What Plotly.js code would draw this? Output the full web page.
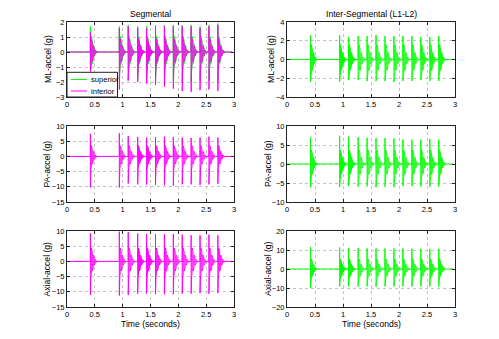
<!DOCTYPE html>
<html>
<head>
<meta charset="utf-8">
<script src="https://cdn.plot.ly/plotly-3.0.1.min.js"></script>
<style>
  html, body { margin: 0; padding: 0; background: #ffffff; }
  #chart { width: 499px; height: 339px; }
</style>
</head>
<body>
<div id="chart"></div>
<script>
// Impact onset times (s) of the 13 recorded bursts
const burstTimes = [0.42, 0.94, 1.10, 1.27, 1.43, 1.59, 1.75, 1.91, 2.07, 2.23, 2.39, 2.55, 2.71];

// Ringing after each impact: offsets from onset (s) and relative amplitude
const ringOffsets = [0.000, 0.003, 0.009, 0.015, 0.021, 0.027, 0.033, 0.039, 0.045, 0.051, 0.057, 0.063, 0.069, 0.075, 0.081, 0.087, 0.093, 0.099, 0.105, 0.111, 0.117, 0.123];
const ringLevel   = [1.00, 1.00, 0.95, 0.88, 0.80, 0.72, 0.64, 0.56, 0.49, 0.42, 0.36, 0.30, 0.25, 0.20, 0.16, 0.13, 0.10, 0.08, 0.06, 0.04, 0.03, 0.02];
const recordEnd = 2.97;

// Segmental ML (g): superior and inferior sensors
const mlSupHi   = [1.7, 1.7, 1.8, 1.7, 1.7, 1.8, 1.8, 1.8, 1.8, 1.8, 1.7, 1.8, 1.9];
const mlSupLo   = [-1.2, -1.8, -1.9, -1.8, -1.8, -1.9, -1.9, -1.9, -2.0, -2.0, -1.9, -1.9, -2.0];
const mlSupRing = [1.2, 1.2, 1.2, 1.2, 1.2, 1.2, 1.2, 1.2, 1.2, 1.2, 1.2, 1.2, 1.2];
const mlInfHi   = [1.3, 1.6, 1.7, 1.6, 1.6, 1.7, 1.7, 1.7, 1.7, 1.7, 1.6, 1.7, 1.8];
const mlInfLo   = [-1.3, -2.5, -1.9, -2.0, -2.1, -2.2, -2.3, -2.45, -2.6, -2.65, -2.55, -2.5, -2.6];
const mlInfRing = [1.0, 1.0, 1.0, 1.0, 1.0, 1.0, 1.0, 1.0, 1.0, 1.0, 1.0, 1.0, 1.0];

// Inter-segmental ML (g)
const mlIntHi   = [2.6, 2.6, 2.4, 2.5, 2.5, 2.6, 2.5, 2.5, 2.5, 2.5, 2.4, 2.4, 2.5];
const mlIntLo   = [-2.4, -2.4, -2.2, -2.2, -2.3, -2.3, -2.3, -2.4, -2.3, -2.3, -2.2, -2.3, -2.3];
const mlIntRing = [1.8, 1.8, 1.8, 1.8, 1.8, 1.8, 1.8, 1.8, 1.8, 1.8, 1.8, 1.8, 1.8];

// Segmental PA (g)
const paSegHi   = [7.4, 7.6, 6.7, 6.4, 6.2, 6.4, 6.5, 6.4, 6.2, 6.1, 6.2, 6.5, 6.2];
const paSegLo   = [-10.2, -10.2, -8.9, -9.2, -9.3, -9.3, -9.5, -9.6, -9.2, -9.2, -9.4, -9.2, -9.0];
const paSegRing = [4.0, 4.0, 4.0, 4.0, 4.0, 4.0, 4.0, 4.0, 4.0, 4.0, 4.0, 4.0, 4.0];

// Inter-segmental PA (g)
const paIntHi   = [7.0, 7.4, 7.2, 7.0, 6.9, 6.8, 6.8, 6.7, 6.5, 6.4, 6.4, 6.6, 6.4];
const paIntLo   = [-6.1, -6.1, -5.8, -5.9, -5.9, -6.1, -6.0, -6.1, -5.8, -5.8, -5.9, -6.0, -5.9];
const paIntRing = [4.2, 4.2, 4.2, 4.2, 4.2, 4.2, 4.2, 4.2, 4.2, 4.2, 4.2, 4.2, 4.2];

// Segmental axial (g)
const axSegHi   = [9.2, 9.8, 9.6, 9.2, 9.0, 9.0, 9.0, 9.0, 8.8, 8.6, 8.6, 8.8, 8.6];
const axSegLo   = [-11.0, -11.2, -11.0, -10.6, -10.6, -10.8, -10.8, -10.8, -10.6, -10.6, -10.4, -10.6, -10.4];
const axSegRing = [5.0, 5.0, 5.0, 5.0, 5.0, 5.0, 5.0, 5.0, 5.0, 5.0, 5.0, 5.0, 5.0];

// Inter-segmental axial (g)
const axIntHi   = [11.6, 11.3, 11.0, 11.0, 10.9, 10.9, 10.8, 10.8, 10.8, 10.6, 10.6, 10.6, 10.5];
const axIntLo   = [-10.0, -9.2, -9.2, -9.2, -9.2, -9.2, -9.2, -9.2, -9.2, -9.2, -9.2, -9.2, -9.2];
const axIntRing = [6.0, 6.0, 6.0, 6.0, 6.0, 6.0, 6.0, 6.0, 6.0, 6.0, 6.0, 6.0, 6.0];

// Axis tick values and labels
const timeTicks = [0, 0.5, 1, 1.5, 2, 2.5, 3];
const timeLabels = ['0', '0.5', '1', '1.5', '2', '2.5', '3'];
const mlSegTicks = [-3, -2, -1, 0, 1, 2];
const mlIntTicks = [-4, -2, 0, 2, 4];
const paSegTicks = [-15, -10, -5, 0, 5, 10];
const paIntTicks = [-10, -5, 0, 5, 10];
const axSegTicks = [-15, -10, -5, 0, 5, 10];
const axIntTicks = [-20, -10, 0, 10, 20];

const GREEN = '#00ff00';
const MAGENTA = '#ff00ff';
const FONT = 'Liberation Sans, Arial, Helvetica, sans-serif';

// Build a continuous trace: flat baseline, a spike at each onset, then decaying ringing
function buildSignal(hi, lo, ring) {
  const x = [0], y = [0];
  burstTimes.forEach((t0, i) => {
    x.push(t0, t0, t0);
    y.push(0, hi[i], lo[i]);
    for (let k = 1; k < ringOffsets.length; k++) {
      const t = t0 + ringOffsets[k];
      const a = ring[i] * ringLevel[k];
      if (k % 2) { x.push(t, t); y.push(-a, a); }
      else       { x.push(t, t); y.push(a, -a); }
    }
    x.push(t0 + ringOffsets[ringOffsets.length - 1] + 0.004);
    y.push(0);
  });
  x.push(recordEnd); y.push(0);
  return { x, y };
}

function trace(hi, lo, ring, color, xa, ya, name) {
  const s = buildSignal(hi, lo, ring);
  return {
    x: s.x, y: s.y, type: 'scatter', mode: 'lines',
    line: { color: color, width: 1 },
    xaxis: xa, yaxis: ya, name: name, showlegend: false, hoverinfo: 'skip'
  };
}

const data = [
  trace(mlSupHi, mlSupLo, mlSupRing, GREEN,   'x',  'y',  'superior'),
  trace(mlInfHi, mlInfLo, mlInfRing, MAGENTA, 'x',  'y',  'inferior'),
  trace(mlIntHi, mlIntLo, mlIntRing, GREEN,   'x2', 'y2', 'L1-L2'),
  trace(paSegHi, paSegLo, paSegRing, MAGENTA, 'x3', 'y3', 'PA'),
  trace(paIntHi, paIntLo, paIntRing, GREEN,   'x4', 'y4', 'PA L1-L2'),
  trace(axSegHi, axSegLo, axSegRing, MAGENTA, 'x5', 'y5', 'Axial'),
  trace(axIntHi, axIntLo, axIntRing, GREEN,   'x6', 'y6', 'Axial L1-L2')
];

// Pixel helpers for a 499 x 339 page with zero margins
const W = 499, H = 339;
const px = v => v / W;
const py = v => 1 - v / H;
const colX = [[67, 234], [287, 455]];
const rowY = [[22, 97], [126, 202], [231, 307]];

function xAxis(col, row) {
  const n = row * 2 + col + 1;
  return {
    domain: [px(colX[col][0]), px(colX[col][1])],
    anchor: 'y' + (n === 1 ? '' : n),
    range: [0, 3], tickvals: timeTicks, ticktext: timeLabels,
    showline: true, mirror: 'ticks', linecolor: '#222', linewidth: 1,
    ticks: 'inside', ticklen: 3, tickcolor: '#222',
    showgrid: true, gridcolor: '#c4c4c4', griddash: 'dot', gridwidth: 1,
    zeroline: false, tickfont: { family: FONT, size: 7.5, color: '#000' }
  };
}
function yAxis(col, row, ticks) {
  const n = row * 2 + col + 1;
  return {
    domain: [py(rowY[row][1]), py(rowY[row][0])],
    anchor: 'x' + (n === 1 ? '' : n),
    range: [ticks[0], ticks[ticks.length - 1]], tickvals: ticks,
    showline: true, mirror: 'ticks', linecolor: '#222', linewidth: 1,
    ticks: 'inside', ticklen: 3, tickcolor: '#222',
    showgrid: true, gridcolor: '#c4c4c4', griddash: 'dot', gridwidth: 1,
    zeroline: false, tickfont: { family: FONT, size: 7.5, color: '#000' }
  };
}

function label(text, x, y, angle) {
  return {
    text: text, xref: 'paper', yref: 'paper', x: px(x), y: py(y),
    xanchor: 'center', yanchor: 'middle', showarrow: false,
    textangle: angle || 0, font: { family: FONT, size: 8.6, color: '#000' }
  };
}

const annotations = [
  label('Segmental', 150, 14),
  label('Inter-Segmental (L1-L2)', 371, 14),
  label('Time (seconds)', 150, 323.5),
  label('Time (seconds)', 371, 323.5),
  label('ML-accel (g)', 48.5, 59.5, -90),
  label('ML-accel (g)', 271.5, 59.5, -90),
  label('PA-accel (g)', 46.5, 164, -90),
  label('PA-accel (g)', 268, 164, -90),
  label('Axial-accel (g)', 46.5, 269, -90),
  label('Axial-accel (g)', 268, 269, -90),
  // legend entries
  {
    text: 'superior', xref: 'paper', yref: 'paper', x: px(89), y: py(79.5),
    xanchor: 'left', yanchor: 'middle', showarrow: false,
    font: { family: FONT, size: 7.6, color: '#000' }
  },
  {
    text: 'inferior', xref: 'paper', yref: 'paper', x: px(89), y: py(91),
    xanchor: 'left', yanchor: 'middle', showarrow: false,
    font: { family: FONT, size: 7.6, color: '#000' }
  }
];

const shapes = [
  { type: 'rect', xref: 'paper', yref: 'paper', x0: px(67), x1: px(117.5), y0: py(97), y1: py(72.3),
    line: { color: '#222', width: 1 }, fillcolor: '#ffffff', layer: 'above' },
  { type: 'line', xref: 'paper', yref: 'paper', x0: px(71), x1: px(87), y0: py(79.5), y1: py(79.5),
    line: { color: GREEN, width: 1 }, layer: 'above' },
  { type: 'line', xref: 'paper', yref: 'paper', x0: px(71), x1: px(87), y0: py(91), y1: py(91),
    line: { color: MAGENTA, width: 1 }, layer: 'above' }
];

const layout = {
  width: W, height: H,
  margin: { l: 0, r: 0, t: 0, b: 0 },
  paper_bgcolor: '#ffffff', plot_bgcolor: '#ffffff',
  showlegend: false,
  xaxis: xAxis(0, 0), yaxis: yAxis(0, 0, mlSegTicks),
  xaxis2: xAxis(1, 0), yaxis2: yAxis(1, 0, mlIntTicks),
  xaxis3: xAxis(0, 1), yaxis3: yAxis(0, 1, paSegTicks),
  xaxis4: xAxis(1, 1), yaxis4: yAxis(1, 1, paIntTicks),
  xaxis5: xAxis(0, 2), yaxis5: yAxis(0, 2, axSegTicks),
  xaxis6: xAxis(1, 2), yaxis6: yAxis(1, 2, axIntTicks),
  annotations: annotations,
  shapes: shapes
};

Plotly.newPlot('chart', data, layout, { staticPlot: true, displayModeBar: false });
</script>
</body>
</html>
